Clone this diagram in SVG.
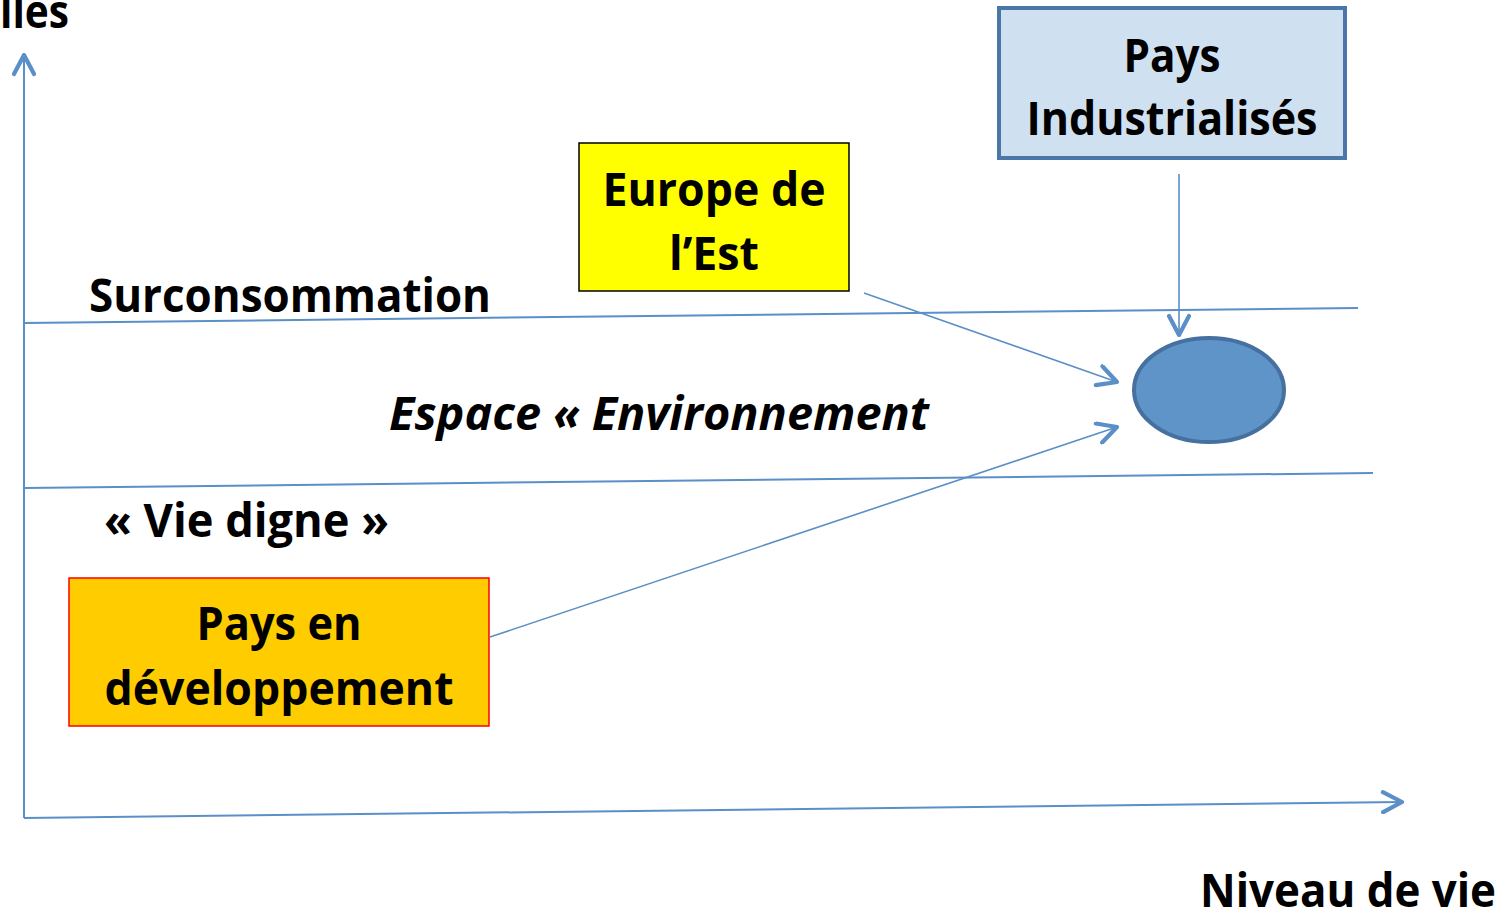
<svg xmlns="http://www.w3.org/2000/svg" width="1509" height="914" viewBox="0 0 1509 914">
<style>
text{font-family:"Open Sans","Liberation Sans",sans-serif;font-weight:bold;font-size:47px;fill:#000}
.c{text-anchor:middle}
.ax{stroke:#5b8fc7;stroke-width:2;fill:none}
.cn{stroke:#5b8fc7;stroke-width:1.6;fill:none}
</style>
<defs>
<marker id="ah" markerUnits="userSpaceOnUse" viewBox="0 0 24 24" refX="22" refY="12" markerWidth="24" markerHeight="24" orient="auto">
<path d="M3,2 L22,12 L3,22" fill="none" stroke="#5b8fc7" stroke-width="4.2" stroke-linecap="round" stroke-linejoin="round"/>
</marker>
</defs>
<g id="axes">
<line class="ax" x1="24" y1="818" x2="24" y2="55" marker-end="url(#ah)"/>
<line class="ax" x1="24" y1="818" x2="1402" y2="802" marker-end="url(#ah)"/>
<line class="ax" x1="24" y1="323" x2="1358" y2="308"/>
<line class="ax" x1="24" y1="488" x2="1373" y2="473"/>
</g>
<g id="labels">
<text x="0" y="28" textLength="69" lengthAdjust="spacingAndGlyphs">lles</text>
<text x="89" y="312" textLength="402" lengthAdjust="spacingAndGlyphs">Surconsommation</text>
<text x="389" y="430" font-style="italic" textLength="540" lengthAdjust="spacingAndGlyphs">Espace « Environnement</text>
<text x="104" y="537" textLength="285" lengthAdjust="spacingAndGlyphs">« Vie digne »</text>
<text x="1200" y="907" textLength="296" lengthAdjust="spacingAndGlyphs">Niveau de vie</text>
</g>
<g id="connectors">
<line class="cn" x1="1179" y1="174" x2="1179" y2="335" marker-end="url(#ah)"/>
<line class="cn" x1="864" y1="293" x2="1117" y2="382" marker-end="url(#ah)"/>
<line class="cn" x1="490" y1="637" x2="1117" y2="427" marker-end="url(#ah)"/>
</g>
<g id="pays-industrialises">
<rect x="999" y="8" width="346" height="150" fill="#cfe0f1" stroke="#4a76a8" stroke-width="4"/>
<text class="c" x="1172" y="72" textLength="97" lengthAdjust="spacingAndGlyphs">Pays</text>
<text class="c" x="1172" y="135" textLength="291" lengthAdjust="spacingAndGlyphs">Industrialisés</text>
</g>
<g id="europe-est">
<rect x="579" y="143" width="270" height="148" fill="#ffff00" stroke="#000" stroke-width="1.5"/>
<text class="c" x="714" y="206" textLength="223" lengthAdjust="spacingAndGlyphs">Europe de</text>
<text class="c" x="714" y="270" textLength="90" lengthAdjust="spacingAndGlyphs">l’Est</text>
</g>
<g id="pays-developpement">
<rect x="69" y="578" width="420" height="148" fill="#ffcc00" stroke="#ff0000" stroke-width="1.5"/>
<text class="c" x="279" y="640" textLength="165" lengthAdjust="spacingAndGlyphs">Pays en</text>
<text class="c" x="279" y="705" textLength="349" lengthAdjust="spacingAndGlyphs">développement</text>
</g>
<g id="cible">
<ellipse cx="1209" cy="390" rx="75" ry="52" fill="#5e94c8" stroke="#45709f" stroke-width="4"/>
</g>
</svg>
